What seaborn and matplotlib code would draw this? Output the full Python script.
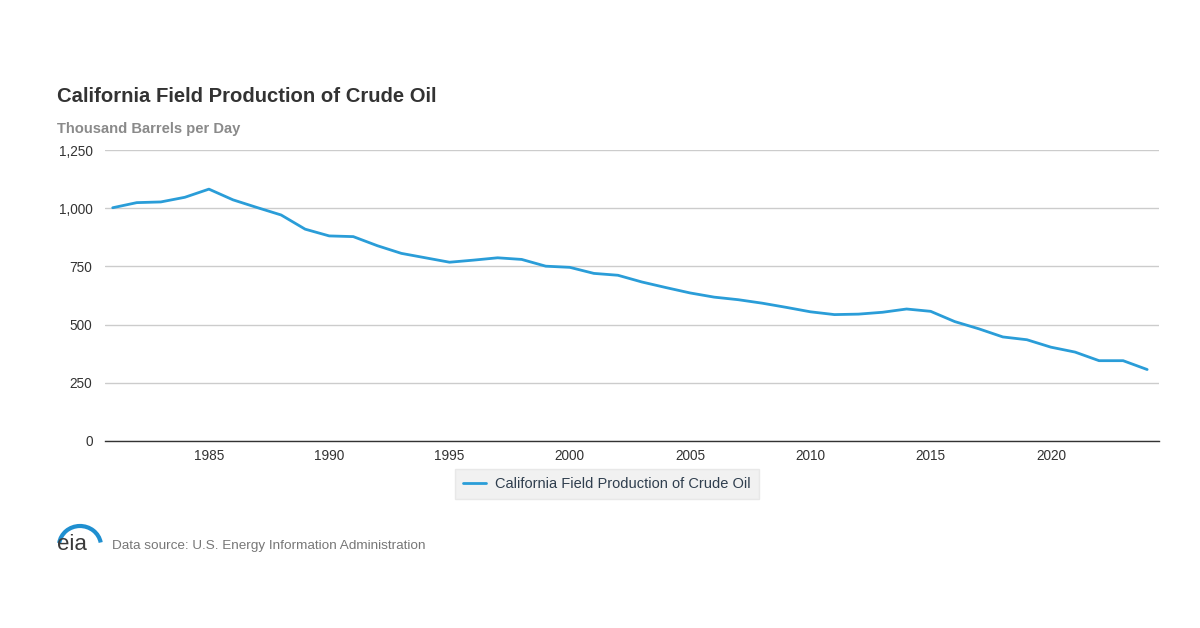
import numpy as np
import pandas as pd
import matplotlib.pyplot as plt
import seaborn as sns
from matplotlib.patches import Arc
from matplotlib.ticker import FuncFormatter

# values (thousand barrels per day)
years = list(range(1981, 2025))
production = [1002, 1024, 1027, 1047, 1082, 1036, 1003, 971, 910, 881,
              878, 839, 806, 787, 768, 777, 787, 780, 751, 746,
              720, 712, 683, 659, 636, 618, 607, 592, 574, 555,
              543, 545, 553, 567, 557, 513, 482, 447, 435, 403,
              382, 345, 345, 307]
series_name = "California Field Production of Crude Oil"
y_ticks = [0, 250, 500, 750, 1000, 1250]
x_ticks = [1985, 1990, 1995, 2000, 2005, 2010, 2015, 2020]

df = pd.DataFrame({"Year": years, "Production": production, "Series": series_name})

sns.set_style("white")
plt.rcParams["font.family"] = ["Liberation Sans", "DejaVu Sans"]

line_color = "#2a9dd8"

fig = plt.figure(figsize=(12, 6.28), dpi=100)
ax = fig.add_axes([0.0875, 0.2978, 0.8783, 0.4633])

sns.lineplot(data=df, x="Year", y="Production", hue="Series", palette=[line_color],
             linewidth=2, ax=ax, legend=False)

ax.set_xlim(1980.68, 2024.49)
ax.set_ylim(0, 1250)
ax.set_yticks(y_ticks)
ax.set_xticks(x_ticks)
ax.yaxis.set_major_formatter(FuncFormatter(lambda v, p: f"{int(v):,}"))
ax.grid(axis="y", color="#cccccc", linewidth=1)
ax.set_axisbelow(True)
ax.set_xlabel("")
ax.set_ylabel("")
for s in ["top", "right", "left"]:
    ax.spines[s].set_visible(False)
ax.spines["bottom"].set_color("#333333")
ax.spines["bottom"].set_linewidth(1)
ax.tick_params(axis="y", length=0, pad=9, labelsize=9.8, labelcolor="#333333")
ax.tick_params(axis="x", length=4, width=1, color="#333333", pad=2,
               labelsize=9.8, labelcolor="#333333")

# titles
fig.text(57 / 1200, 1 - 96 / 628, series_name, fontsize=14.6, fontweight="bold",
         color="#333333", va="center", ha="left")
fig.text(57 / 1200, 1 - 129 / 628, "Thousand Barrels per Day", fontsize=10.6,
         fontweight="bold", color="#8a8a8a", va="center", ha="left")

# legend
handle = plt.Line2D([], [], color=line_color, linewidth=2)
leg = fig.legend([handle], [series_name], loc="center",
                 bbox_to_anchor=(607 / 1200, 1 - 484 / 628), frameon=True,
                 fontsize=10.5, handlelength=1.6, handletextpad=0.6,
                 borderpad=0.55, fancybox=False)
leg.get_frame().set_facecolor("#eeeeee")
leg.get_frame().set_edgecolor("#e4e4e4")
for t in leg.get_texts():
    t.set_color("#2f3e4e")

# eia logo and source line
fig.text(57 / 1200, 1 - 544 / 628, "eia", fontsize=16, color="#3a3a3a",
         va="center", ha="left")
arc = Arc((80 / 1200, 1 - 546 / 628), 42 / 1200, 40 / 628, theta1=18, theta2=165,
          transform=fig.transFigure, color="#1f8fd0", linewidth=3)
fig.add_artist(arc)
fig.text(112 / 1200, 1 - 546 / 628, "Data source: U.S. Energy Information Administration",
         fontsize=9.7, color="#777777", va="center", ha="left")

fig.savefig("out.png", dpi=100, facecolor="white")
